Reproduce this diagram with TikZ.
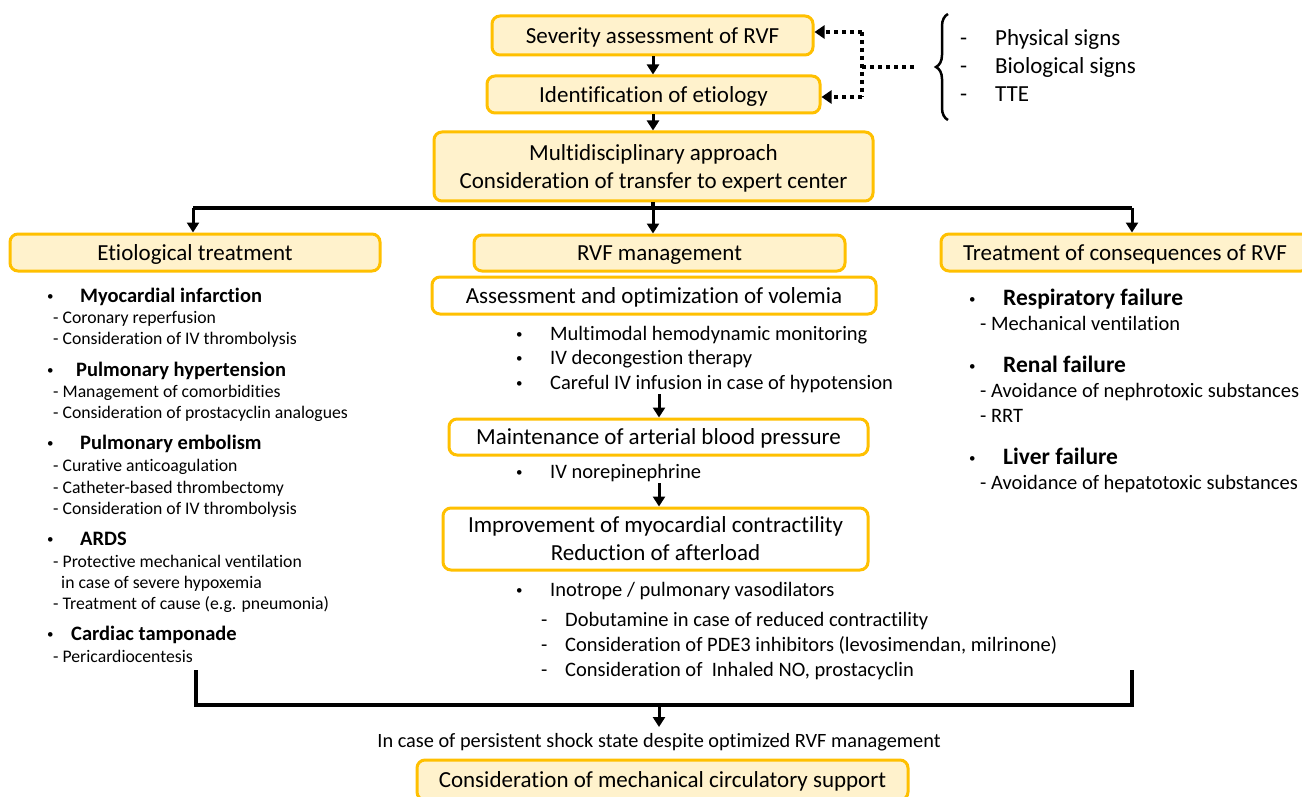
\documentclass[tikz,border=0pt]{standalone}
\usepackage{fontspec}
\setmainfont[Ligatures=NoCommon]{Carlito}
\usetikzlibrary{arrows.meta,decorations.pathreplacing}
\definecolor{boxfill}{HTML}{FFF2CC}
\definecolor{boxline}{HTML}{FFC000}
\newcommand\fsz[2]{\fontsize{#1}{#2}\selectfont}
\tikzset{
  ybox/.style={draw=boxline, fill=boxfill, line width=3pt, rounded corners=8pt, inner sep=0pt, align=center, font=\fsz{23}{28}, text depth=-2pt},
  wbox/.style={ybox, fill=white},
  arr/.style={line width=3pt, -{Triangle[length=10pt,width=12pt]}},
  dotarr/.style={line width=4pt, dash pattern=on 4pt off 4pt, -{Triangle[length=10pt,width=13pt]}},
  dotln/.style={line width=4pt, dash pattern=on 4pt off 4pt},
  bar/.style={line width=4pt},
  txt/.style={anchor=base west, inner sep=0pt},
  bul/.style={txt, font=\fsz{13}{15}},
  lsub/.style={txt, font=\fsz{17.7}{21}},
  lhead/.style={txt, font=\fsz{20.5}{24}\bfseries},
  mtxt/.style={txt, font=\fsz{20.5}{25}},
  rhead/.style={txt, font=\fsz{23.5}{28}\bfseries},
  tr/.style={txt, font=\fsz{23}{28}},
}
\begin{document}
\begin{tikzpicture}[x=1pt,y=-1pt]
\useasboundingbox (0,0) rectangle (1302,797);
\fill[white] (0,0) rectangle (1302,797);

% top boxes
\node[ybox, minimum width=321pt, minimum height=39pt] (b1) at (652.5,35.5) {Severity assessment of RVF};
\node[ybox, minimum width=333pt, minimum height=37pt] (b2) at (653.5,94.5) {Identification of etiology};
\node[ybox, minimum width=439pt, minimum height=69pt] (b3) at (653.5,166.5) {Multidisciplinary approach\\Consideration of transfer to expert center};

\draw[arr] (b1.south -| 653,0) -- (b2.north -| 653,0);
\draw[arr] (b2.south -| 653,0) -- (b3.north -| 653,0);

% dotted links
\coordinate (d1) at (862,32);
\coordinate (d2) at (862,97);
\coordinate (dm) at (862,67);
\coordinate (de) at (915,67);
\draw[dotln] (d1) -- (d2);
\draw[dotln] (dm) -- (de);
\draw[dotarr] (d1) -- (b1.east |- d1);
\draw[dotarr] (d2) -- (b2.east |- d2);

% brace and list
\coordinate (brb) at (948,120);
\coordinate (brt) at (948,14);
\draw[line width=2.5pt, decorate, decoration={brace, amplitude=12pt}] (brb) -- (brt);
\node[tr] (t1d) at (960,46) {-};
\node[tr] (t1) at (995,46) {Physical signs};
\node[tr] (t2d) at (960,74) {-};
\node[tr] (t2) at (995,74) {Biological signs};
\node[tr] (t3d) at (960,102) {-};
\node[tr] (t3) at (995,102) {TTE};

% branch
\node[ybox, minimum width=370pt, minimum height=37pt] (bL) at (195,252.5) {Etiological treatment};
\node[ybox, minimum width=371pt, minimum height=36pt] (bM) at (659.5,253) {RVF management};
\node[ybox, minimum width=368pt, minimum height=37pt] (bR) at (1125,252.5) {Treatment of consequences of RVF};

\coordinate (jL) at (193,208);
\coordinate (jR) at (1132,208);
\draw[bar] (jL) -- (jR);
\draw[bar] (b3.south -| 653,0) -- (653,208);
\draw[arr] (jL) -- (jL |- bL.north);
\draw[arr] (653,206) -- (bM.north -| 653,0);
\draw[arr] (jR) -- (jR |- bR.north);

% left column
\node[bul] (lb1) at (47,300) {•};
\node[lhead] (lh1) at (80,302) {Myocardial infarction};
\node[lsub] (ls11) at (53,323) {- Coronary reperfusion};
\node[lsub] (ls12) at (53,344) {- Consideration of IV thrombolysis};
\node[bul] (lb2) at (47,374) {•};
\node[lhead] (lh2) at (76,376) {Pulmonary hypertension};
\node[lsub] (ls21) at (53,397) {- Management of comorbidities};
\node[lsub] (ls22) at (53,418) {- Consideration of prostacyclin analogues};
\node[bul] (lb3) at (47,447) {•};
\node[lhead] (lh3) at (80,449) {Pulmonary embolism};
\node[lsub] (ls31) at (53,471) {- Curative anticoagulation};
\node[lsub] (ls32) at (53,493) {- Catheter-based thrombectomy};
\node[lsub] (ls33) at (53,514) {- Consideration of IV thrombolysis};
\node[bul] (lb4) at (47,543) {•};
\node[lhead] (lh4) at (80,545) {ARDS};
\node[lsub] (ls41) at (53,567) {- Protective mechanical ventilation};
\node[lsub] (ls42) at (61,588) {in case of severe hypoxemia};
\node[lsub] (ls43) at (53,609) {- Treatment of cause (e.g. pneumonia)};
\node[bul] (lb5) at (47,638) {•};
\node[lhead] (lh5) at (71,640) {Cardiac tamponade};
\node[lsub] (ls51) at (53,662) {- Pericardiocentesis};

% middle column
\node[wbox, minimum width=444pt, minimum height=37pt] (bA) at (654,295.5) {Assessment and optimization of volemia};
\node[bul] (mb1) at (516,338) {•};
\node[mtxt] (m1) at (550,340) {Multimodal hemodynamic monitoring};
\node[bul] (mb2) at (516,362) {•};
\node[mtxt] (m2) at (550,364) {IV decongestion therapy};
\node[bul] (mb3) at (516,387) {•};
\node[mtxt] (m3) at (550,389) {Careful IV infusion in case of hypotension};
\node[wbox, minimum width=419pt, minimum height=36pt] (bB) at (658.5,437) {Maintenance of arterial blood pressure};
\coordinate (a1) at (659,394);
\draw[arr] (a1) -- (a1 |- bB.north);
\node[bul] (mb4) at (516,476) {•};
\node[mtxt] (m4) at (550,478) {IV norepinephrine};
\node[wbox, minimum width=425pt, minimum height=62pt] (bC) at (655.5,539) {Improvement of myocardial contractility\\Reduction of afterload};
\coordinate (a2) at (659,483);
\draw[arr] (a2) -- (a2 |- bC.north);
\node[bul] (mb5) at (516,594) {•};
\node[mtxt] (m5) at (550,596) {Inotrope / pulmonary vasodilators};
\node[mtxt] (md1) at (541,626) {-};
\node[mtxt] (m6) at (565,626) {Dobutamine in case of reduced contractility};
\node[mtxt] (md2) at (541,651) {-};
\node[mtxt] (m7) at (565,651) {Consideration of PDE3 inhibitors (levosimendan, milrinone)};
\node[mtxt] (md3) at (541,676) {-};
\node[mtxt] (m8) at (565,676) {Consideration of \ Inhaled NO, prostacyclin};

% right column
\node[bul] (rb1) at (969,303) {•};
\node[rhead] (rh1) at (1003,305) {Respiratory failure};
\node[mtxt] (rs11) at (980,330) {- Mechanical ventilation};
\node[bul] (rb2) at (969,370) {•};
\node[rhead] (rh2) at (1003,372) {Renal failure};
\node[mtxt] (rs21) at (980,397) {- Avoidance of nephrotoxic substances};
\node[mtxt] (rs22) at (980,422) {- RRT};
\node[bul] (rb3) at (969,462) {•};
\node[rhead] (rh3) at (1003,464) {Liver failure};
\node[mtxt] (rs31) at (980,489) {- Avoidance of hepatotoxic substances};

% bottom
\coordinate (cL) at (196,670);
\coordinate (cR) at (1132,670);
\coordinate (cm) at (659,705);
\coordinate (ce) at (659,727);
\draw[bar] (cL) -- (196,705) -- (1132,705) -- (cR);
\draw[arr] (cm) -- (ce);
\node[anchor=base, inner sep=0pt, font=\fsz{20.3}{24}] (shock) at (659,747) {In case of persistent shock state despite optimized RVF management};
\node[ybox, minimum width=491pt, minimum height=40pt] (bD) at (662.5,780) {Consideration of mechanical circulatory support};
\end{tikzpicture}
\end{document}
